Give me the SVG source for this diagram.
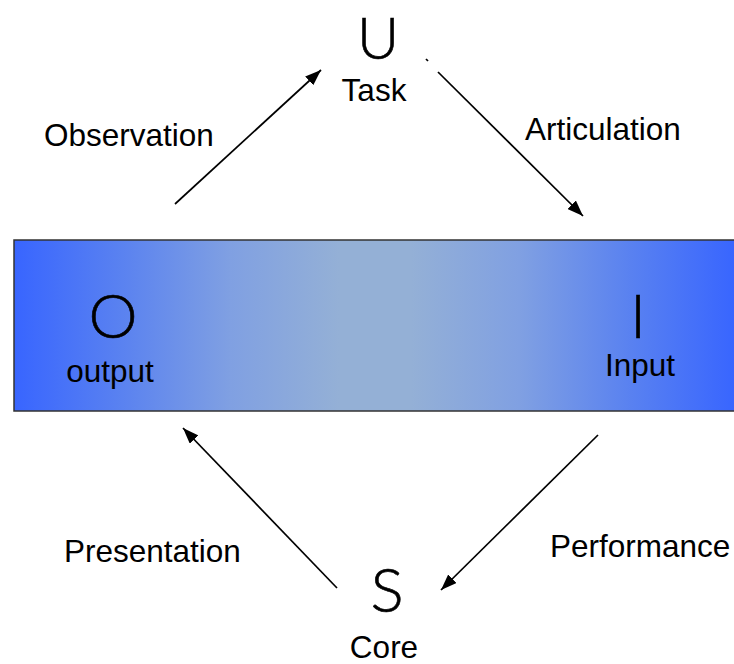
<svg xmlns="http://www.w3.org/2000/svg" width="734" height="664" viewBox="0 0 734 664">
<style>
.lbl{font-family:"Liberation Sans",Arial,sans-serif;font-size:31.5px;fill:#000}
.big{font-family:Lato,"DejaVu Sans",sans-serif;font-weight:300;font-size:62px;fill:#000;stroke:#000;stroke-width:0.6}
.conn line{stroke:#000;stroke-width:1.7;fill:none}
</style>
<defs>
<linearGradient id="g" x1="0" y1="0" x2="1" y2="0">
<stop offset="0" stop-color="#3865ff"/>
<stop offset="0.15" stop-color="#5a82f0"/>
<stop offset="0.3" stop-color="#80a0e2"/>
<stop offset="0.45" stop-color="#94b0d6"/>
<stop offset="0.55" stop-color="#94b0d6"/>
<stop offset="0.7" stop-color="#80a0e2"/>
<stop offset="0.85" stop-color="#5a82f0"/>
<stop offset="1" stop-color="#3865ff"/>
</linearGradient>
<marker id="ah" viewBox="0 0 16 12" refX="16" refY="6" markerWidth="16" markerHeight="12" markerUnits="userSpaceOnUse" orient="auto">
<path d="M0,0 L16,6 L0,12 z" fill="#000"/>
</marker>
</defs>
<g id="band">
<rect x="14" y="240" width="722" height="171" fill="url(#g)" stroke="#333" stroke-width="1.5"/>
</g>
<g id="node-U">
<text class="big" x="378" y="59" text-anchor="middle" style="font-size:58px">U</text>
<text class="lbl" x="374" y="101" text-anchor="middle">Task</text>
</g>
<g id="node-O">
<text class="big" x="113" y="338" text-anchor="middle">O</text>
<text class="lbl" x="110" y="382" text-anchor="middle">output</text>
</g>
<g id="node-I">
<text class="big" x="638" y="338" text-anchor="middle">I</text>
<text class="lbl" x="640" y="376" text-anchor="middle">Input</text>
</g>
<g id="node-S">
<text class="big" x="387" y="612" text-anchor="middle">S</text>
<text class="lbl" x="384" y="658" text-anchor="middle">Core</text>
</g>
<g id="connectors" class="conn">
<line x1="175" y1="204" x2="321" y2="70" marker-end="url(#ah)"/>
<line x1="438" y1="72" x2="583" y2="216" marker-end="url(#ah)"/>
<line x1="426" y1="59" x2="428" y2="61"/>
<line x1="598" y1="435" x2="441" y2="590" marker-end="url(#ah)"/>
<line x1="337" y1="588" x2="183" y2="428" marker-end="url(#ah)"/>
</g>
<g id="labels">
<text class="lbl" x="44" y="146">Observation</text>
<text class="lbl" x="525" y="140">Articulation</text>
<text class="lbl" x="550" y="557">Performance</text>
<text class="lbl" x="64" y="562">Presentation</text>
</g>
</svg>
